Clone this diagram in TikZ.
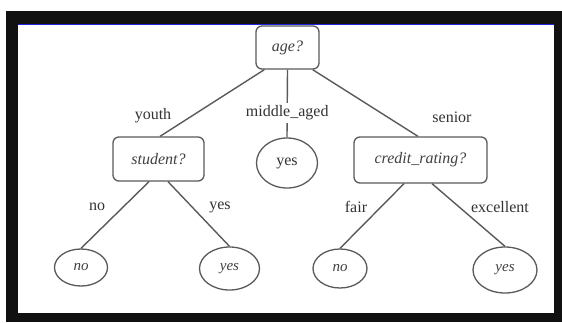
\documentclass[tikz,border=0pt]{standalone}
\usepackage{fontspec}
\setmainfont{Liberation Serif}
\usetikzlibrary{shapes.geometric}
\definecolor{linegray}{HTML}{5A5A5A}
\definecolor{framebk}{HTML}{111111}
\definecolor{topblue}{HTML}{2222DD}
\begin{document}
\begin{tikzpicture}[x=1pt,y=-1pt,
  box/.style={draw=linegray,line width=1.3pt,rounded corners=6pt,rectangle,
    font=\fontsize{16}{18}\selectfont\itshape,text=black!75,inner sep=0pt},
  leaf/.style={draw=linegray,line width=1.3pt,ellipse,inner sep=0pt,
    font=\fontsize{15}{17}\selectfont\itshape,text=black!75},
  edge/.style={draw=linegray,line width=1.4pt},
  lab/.style={font=\fontsize{16}{18}\selectfont,text=black!80,inner sep=1pt}]
\useasboundingbox (0,0) rectangle (562,322);
\fill[white] (0,0) rectangle (562,322);
\fill[framebk] (6,11) rectangle (562,322);
\fill[white] (18,24) rectangle (554,313);
\draw[topblue,line width=1pt] (18,24.5) -- (554,24.5);
% nodes
\node[box,minimum width=63pt,minimum height=43pt] (age) at (287.5,47.5) {age?};
\node[box,minimum width=91pt,minimum height=44pt] (student) at (158.5,159) {student?};
\node[box,minimum width=133pt,minimum height=46pt] (credit) at (420.5,160) {credit\_rating?};
\node[leaf,minimum width=61pt,minimum height=50pt,font=\fontsize{16}{18}\selectfont,text=black!80] (myes) at (287,163) {yes};
\node[leaf,minimum width=53pt,minimum height=37pt] (no1) at (81,267.5) {no};
\node[leaf,minimum width=60pt,minimum height=43pt] (yes1) at (229.5,268.5) {yes};
\node[leaf,minimum width=54pt,minimum height=39pt] (no2) at (340,268.5) {no};
\node[leaf,minimum width=64pt,minimum height=46pt] (yes2) at (505,270) {yes};
% edges
\draw[edge] ([xshift=9pt]age.south west) -- ([xshift=1.5pt]student.north);
\draw[edge] ([xshift=-7pt]age.south east) -- ([xshift=-2.5pt]credit.north);
\draw[edge] (age.south) -- node[pos=0.64,fill=white,lab,inner sep=3pt] (mlab) {middle\_aged} (myes.north);
\draw[edge] ([xshift=-9.5pt]student.south) -- (no1.north);
\draw[edge] ([xshift=9.5pt]student.south) -- (yes1.north);
\draw[edge] ([xshift=-16.5pt]credit.south) -- (no2.north);
\draw[edge] ([xshift=11.5pt]credit.south) -- (yes2.north);
% labels
\node[lab] (lyouth) at (153,116) {youth};
\node[lab] (lsenior) at (452,117) {senior};
\node[lab] (lno) at (97,207) {no};
\node[lab] (lyes) at (220,207) {yes};
\node[lab] (lfair) at (356,207) {fair};
\node[lab] (lexc) at (500,207) {excellent};
\end{tikzpicture}
\end{document}
